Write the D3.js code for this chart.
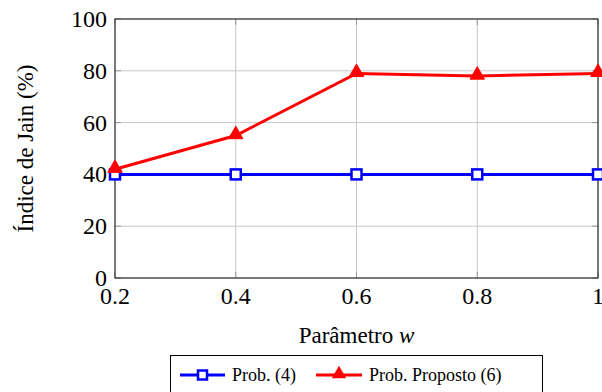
<!DOCTYPE html>
<html>
<head>
<meta charset="utf-8">
<script src="https://cdn.jsdelivr.net/npm/d3@7"></script>
<style>
  body { margin: 0; background: #fff; }
</style>
</head>
<body>
<svg id="chart" width="602" height="392"></svg>
<script>
// data
const wValues = [0.2, 0.4, 0.6, 0.8, 1.0]
const probBase = [40, 40, 40, 40, 40]
const probProposto = [42, 55, 79, 78, 79]
const xTicks = [0.2, 0.4, 0.6, 0.8, 1.0]
const yTicks = [0, 20, 40, 60, 80, 100]
const seriesNames = ['Prob. (4)', 'Prob. Proposto (6)']

const svg = d3.select('#chart')
  .attr('font-family', "'Liberation Serif', 'Times New Roman', 'DejaVu Serif', serif")
const margin = {left: 115, right: 4, top: 19, bottom: 114}
const W = 602, H = 392
const x = d3.scaleLinear().domain([0.2, 1]).range([margin.left, W - margin.right])
const y = d3.scaleLinear().domain([0, 100]).range([H - margin.bottom, margin.top])

const fmtX = d => d === 1 ? '1' : d3.format('.1f')(d)

// grid
const grid = svg.append('g')
grid.selectAll('line.gx').data(xTicks).enter().append('line')
  .attr('x1', d => x(d)).attr('x2', d => x(d))
  .attr('y1', y(0)).attr('y2', y(100))
  .attr('stroke', '#c8c8c8').attr('stroke-width', 1)
grid.selectAll('line.gy').data(yTicks).enter().append('line')
  .attr('y1', d => y(d)).attr('y2', d => y(d))
  .attr('x1', x(0.2)).attr('x2', x(1))
  .attr('stroke', '#c8c8c8').attr('stroke-width', 1)

// inward tick marks on all sides
const tk = 6
const ticks = svg.append('g').attr('stroke', '#999').attr('stroke-width', 1)
yTicks.forEach(d => {
  ticks.append('line').attr('x1', x(0.2)).attr('x2', x(0.2) + tk).attr('y1', y(d)).attr('y2', y(d))
  ticks.append('line').attr('x1', x(1)).attr('x2', x(1) - tk).attr('y1', y(d)).attr('y2', y(d))
})
xTicks.forEach(d => {
  ticks.append('line').attr('x1', x(d)).attr('x2', x(d)).attr('y1', y(0)).attr('y2', y(0) - tk)
  ticks.append('line').attr('x1', x(d)).attr('x2', x(d)).attr('y1', y(100)).attr('y2', y(100) + tk)
})

// frame
svg.append('rect')
  .attr('x', x(0.2)).attr('y', y(100))
  .attr('width', x(1) - x(0.2)).attr('height', y(0) - y(100))
  .attr('fill', 'none').attr('stroke', '#333').attr('stroke-width', 1.2)

// tick labels
svg.selectAll('text.xt').data(xTicks).enter().append('text')
  .attr('x', d => x(d)).attr('y', y(0) + 26)
  .attr('text-anchor', 'middle').attr('font-size', 24)
  .text(fmtX)
svg.selectAll('text.yt').data(yTicks).enter().append('text')
  .attr('x', x(0.2) - 8).attr('y', d => y(d) + 8)
  .attr('text-anchor', 'end').attr('font-size', 24)
  .text(d => d)

// axis labels
svg.append('text')
  .attr('x', x(0.6)).attr('y', 343)
  .attr('text-anchor', 'middle').attr('font-size', 23)
  .html('Parâmetro <tspan font-style="italic">w</tspan>')
svg.append('text')
  .attr('transform', `translate(33,${(y(0) + y(100)) / 2}) rotate(-90)`)
  .attr('text-anchor', 'middle').attr('font-size', 23)
  .text('Índice de Jain (%)')

const line = d3.line().x((d, i) => x(wValues[i])).y(d => y(d))
const tri = d3.symbol().type(d3.symbolTriangle).size(90)

// blue series
svg.append('path').datum(probBase).attr('d', line)
  .attr('fill', 'none').attr('stroke', '#0000ff').attr('stroke-width', 3)
svg.selectAll('rect.m1').data(probBase).enter().append('rect')
  .attr('x', (d, i) => x(wValues[i]) - 5).attr('y', d => y(d) - 5)
  .attr('width', 10).attr('height', 10)
  .attr('fill', '#fff').attr('stroke', '#0000ff').attr('stroke-width', 2.5)

// red series
svg.append('path').datum(probProposto).attr('d', line)
  .attr('fill', 'none').attr('stroke', '#ff0000').attr('stroke-width', 3)
svg.selectAll('path.m2').data(probProposto).enter().append('path')
  .attr('d', tri)
  .attr('transform', (d, i) => `translate(${x(wValues[i])},${y(d) - 1})`)
  .attr('fill', '#ff0000').attr('stroke', '#ff0000').attr('stroke-width', 1)

// legend
const lg = svg.append('g')
lg.append('rect').attr('x', 170.5).attr('y', 355.5).attr('width', 372).attr('height', 40)
  .attr('fill', '#fff').attr('stroke', '#000').attr('stroke-width', 1)
const ly = 375
lg.append('line').attr('x1', 180).attr('x2', 225).attr('y1', ly).attr('y2', ly)
  .attr('stroke', '#0000ff').attr('stroke-width', 3)
lg.append('rect').attr('x', 198).attr('y', ly - 4.5).attr('width', 9).attr('height', 9)
  .attr('fill', '#fff').attr('stroke', '#0000ff').attr('stroke-width', 2.5)
lg.append('text').attr('x', 232).attr('y', ly + 6).attr('font-size', 18).text(seriesNames[0])
lg.append('line').attr('x1', 316).attr('x2', 362).attr('y1', ly).attr('y2', ly)
  .attr('stroke', '#ff0000').attr('stroke-width', 3)
lg.append('path').attr('d', tri)
  .attr('transform', `translate(339,${ly - 1})`)
  .attr('fill', '#ff0000')
lg.append('text').attr('x', 369).attr('y', ly + 6).attr('font-size', 18).text(seriesNames[1])
</script>
</body>
</html>
